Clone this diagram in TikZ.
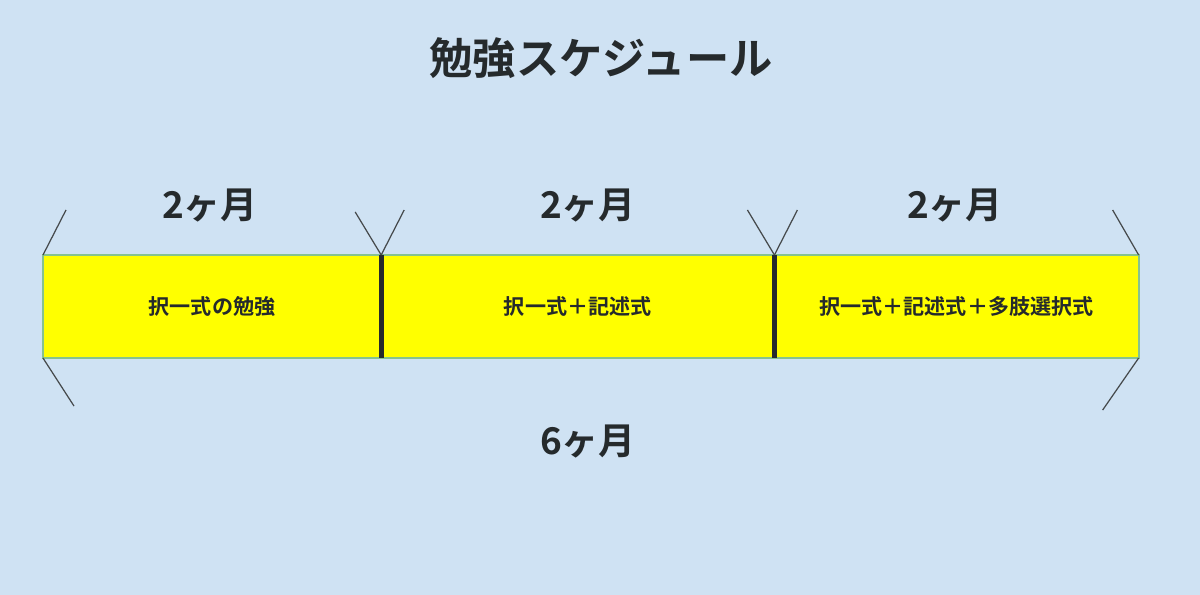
\documentclass[tikz,border=0pt]{standalone}
\usepackage{fontspec}
\newfontfamily\jpfont{Noto Sans CJK JP}[BoldFont={Noto Sans CJK JP Bold}]
\definecolor{fondo}{HTML}{CFE2F3}
\definecolor{tinta}{HTML}{252A2C}
\definecolor{borde}{HTML}{86C28F}
\definecolor{amarillo}{HTML}{FFFF00}
\tikzset{
  seccion/.style={draw=borde, line width=0.5pt, fill=amarillo, minimum height=1.03cm, outer sep=0pt,
                  anchor=north west, inner sep=0pt, font=\jpfont\bfseries\fontsize{6}{7}\selectfont, text=tinta},
  periodo/.style={font=\jpfont\bfseries\fontsize{10.5}{12}\selectfont, text=tinta},
  divisor/.style={line width=1.4pt, tinta},
  marca/.style={line width=0.35pt, tinta!85}
}
\begin{document}
\begin{tikzpicture}[x=0.01cm, y=-0.01cm]
  % Fondo
  \fill[fondo] (0, 0) rectangle (1200, 595);
  \useasboundingbox (0, 0) rectangle (1200, 595);

  % Titulo
  \node[font=\jpfont\bfseries\fontsize{12.3}{14}\selectfont, text=tinta] (titulo) at (601, 58) {勉強スケジュール};

  % Barra de secciones
  \node[seccion, minimum width=3.38cm] (s1) at (43, 255) {択一式の勉強};
  \node[seccion, minimum width=3.93cm] (s2) at (s1.north east) {択一式＋記述式};
  \node[seccion, minimum width=3.64cm] (s3) at (s2.north east) {択一式＋記述式＋多肢選択式};

  % Divisores
  \draw[divisor] (s1.north east) -- (s1.south east);
  \draw[divisor] (s2.north east) -- (s2.south east);

  % Marcas de los periodos
  \draw[marca] (s1.north west) -- ++(23, -45);
  \draw[marca] (s1.north east) -- ++(-26, -43);
  \draw[marca] (s2.north west) -- ++(23, -45);
  \draw[marca] (s2.north east) -- ++(-27, -45);
  \draw[marca] (s3.north west) -- ++(23, -45);
  \draw[marca] (s3.north east) -- ++(-26, -45);
  \draw[marca] (s1.south west) -- ++(31, 48);
  \draw[marca] (s3.south east) -- ++(-36, 52);

  % Etiquetas de los periodos
  \node[periodo] (p1) at (210, 206) {2ヶ月};
  \node[periodo] (p2) at (588, 206) {2ヶ月};
  \node[periodo] (p3) at (955, 206) {2ヶ月};
  \node[periodo] (total) at (588, 442) {6ヶ月};
\end{tikzpicture}
\end{document}
